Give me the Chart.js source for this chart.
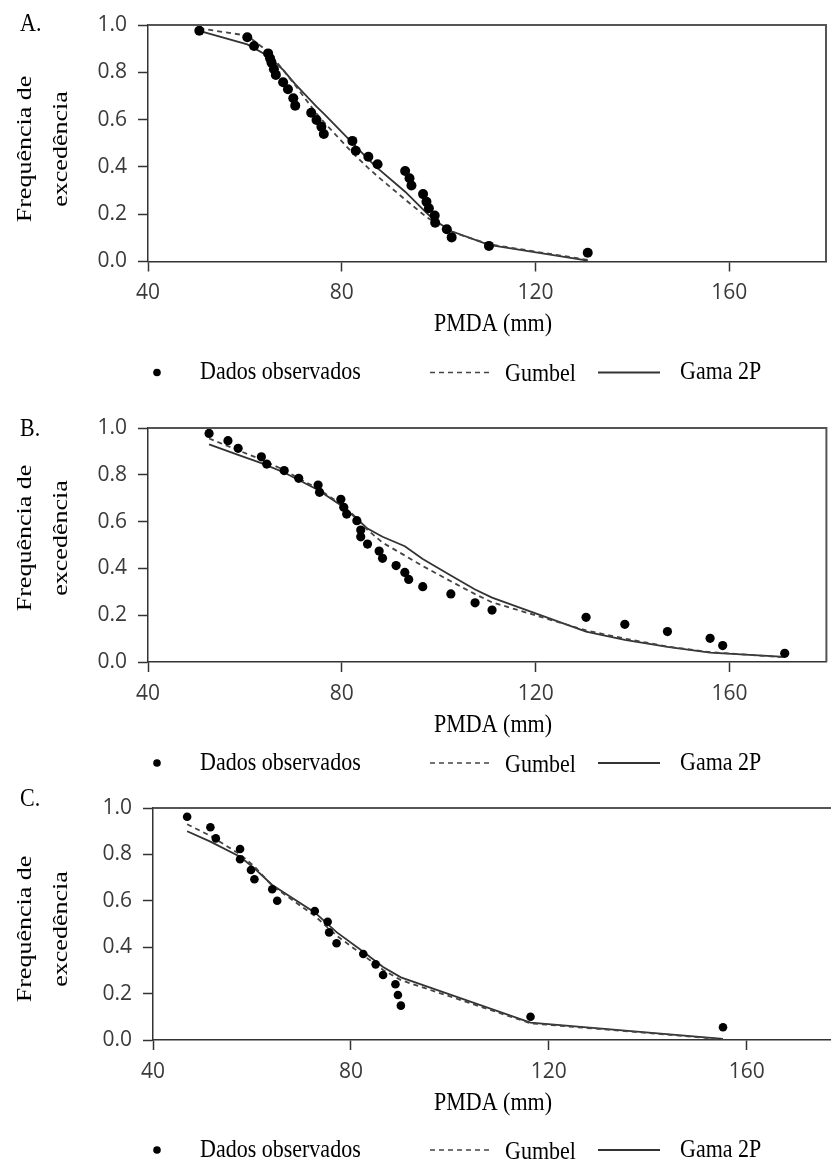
<!DOCTYPE html>
<html><head><meta charset="utf-8">
<script src="https://cdn.jsdelivr.net/npm/chart.js@4.4.1/dist/chart.umd.min.js"></script>
<style>
html,body{margin:0;padding:0;background:#fff;overflow:hidden;width:831px;height:1167px;position:relative;}
.wrap{position:absolute;left:0;}
canvas{display:block;}
</style></head><body>
<div class="wrap" style="top:0px"><canvas id="cA" width="831" height="390"></canvas></div>
<div class="wrap" style="top:390px"><canvas id="cB" width="831" height="388"></canvas></div>
<div class="wrap" style="top:778px"><canvas id="cC" width="850" height="389"></canvas></div>
<script>
// ---------- data ----------
const xTickLabels = [40, 80, 120, 160];
const yTickLabels = [0, 0.2, 0.4, 0.6, 0.8, 1.0];
const legendLabels = ['Dados observados', 'Gumbel', 'Gama 2P'];
const panelLetters = ['A.', 'B.', 'C.'];
const yTitleLines = ['Frequência de', 'excedência'];
const xTitle = 'PMDA (mm)';

// Panel A
const obsA_x = [50.6, 60.5, 61.9, 64.8, 65.2, 65.5, 66.0, 66.4, 67.9, 68.9, 70.0, 70.4, 73.7, 74.8, 75.8, 76.3, 82.2, 82.9, 85.5, 87.4, 93.1, 94.0, 94.4, 96.8, 97.5, 98.0, 99.2, 99.3, 101.7, 102.7, 110.4, 130.8];
const obsA_y = [0.976, 0.948, 0.911, 0.880, 0.859, 0.841, 0.813, 0.789, 0.758, 0.728, 0.690, 0.659, 0.629, 0.598, 0.570, 0.539, 0.510, 0.468, 0.443, 0.411, 0.383, 0.352, 0.321, 0.285, 0.253, 0.225, 0.194, 0.164, 0.136, 0.102, 0.066, 0.037];
const fitA_x = [50.6, 60.5, 64.8, 67.9, 70.4, 74.8, 76.3, 82.2, 85.5, 87.4, 93.1, 97.5, 99.3, 102.7, 110.4, 130.8];
const gumbelA = [0.986, 0.955, 0.887, 0.810, 0.745, 0.625, 0.590, 0.460, 0.395, 0.360, 0.262, 0.188, 0.165, 0.125, 0.073, 0.007];
const gamaA   = [0.975, 0.918, 0.869, 0.810, 0.750, 0.655, 0.625, 0.502, 0.432, 0.395, 0.295, 0.206, 0.172, 0.128, 0.070, 0.004];

// Panel B
const obsB_x = [52.6, 56.5, 58.6, 63.4, 64.5, 68.1, 71.1, 75.1, 75.4, 79.8, 80.4, 81.0, 83.1, 83.9, 83.9, 85.3, 87.7, 88.4, 91.2, 93.0, 93.8, 96.7, 102.5, 107.5, 111.0, 130.4, 138.4, 147.2, 156.0, 158.6, 171.4];
const obsB_y = [0.977, 0.946, 0.913, 0.877, 0.846, 0.818, 0.785, 0.756, 0.725, 0.695, 0.661, 0.632, 0.604, 0.564, 0.535, 0.504, 0.474, 0.443, 0.412, 0.383, 0.353, 0.322, 0.291, 0.253, 0.222, 0.191, 0.161, 0.130, 0.101, 0.070, 0.037];
const fitB_x = [52.6, 58.6, 63.4, 68.1, 71.1, 75.1, 79.8, 83.1, 85.3, 88.4, 93.0, 96.7, 102.5, 107.5, 111.0, 130.4, 138.4, 147.2, 156.0, 171.4];
const gumbelB = [0.955, 0.905, 0.865, 0.820, 0.785, 0.740, 0.675, 0.615, 0.565, 0.510, 0.455, 0.410, 0.345, 0.290, 0.255, 0.135, 0.100, 0.066, 0.042, 0.020];
const gamaB   = [0.930, 0.885, 0.850, 0.810, 0.778, 0.735, 0.670, 0.612, 0.570, 0.535, 0.495, 0.440, 0.370, 0.310, 0.275, 0.130, 0.095, 0.065, 0.040, 0.022];

// Panel C
const obsC_x = [46.9, 51.6, 52.7, 57.6, 57.6, 59.8, 60.5, 64.1, 65.1, 72.7, 75.3, 75.6, 77.1, 82.5, 85.0, 86.5, 89.0, 89.5, 90.1, 116.3, 155.2];
const obsC_y = [0.962, 0.917, 0.869, 0.823, 0.779, 0.733, 0.693, 0.650, 0.600, 0.556, 0.510, 0.464, 0.417, 0.371, 0.326, 0.280, 0.240, 0.194, 0.148, 0.100, 0.055];
const fitC_x = [46.9, 51.6, 57.6, 60.5, 64.1, 72.7, 77.1, 82.5, 86.5, 90.1, 116.3, 155.2];
const gumbelC = [0.930, 0.880, 0.800, 0.748, 0.665, 0.535, 0.450, 0.365, 0.302, 0.258, 0.072, 0.003];
const gamaC   = [0.900, 0.855, 0.790, 0.740, 0.668, 0.550, 0.465, 0.380, 0.315, 0.270, 0.075, 0.005];

// ---------- drawing ----------
const SERIF = '"Liberation Serif", "Times New Roman", serif';
const SANS = '"Open Sans", Lato, sans-serif';
const XSCALE_H = 50;

function txt(ctx, s, x, y, size, sy, align) {
  ctx.save();
  ctx.translate(x, y);
  ctx.scale(1, sy);
  ctx.font = size + 'px ' + SERIF;
  ctx.textAlign = align || 'left';
  ctx.textBaseline = 'middle';
  ctx.fillStyle = '#000';
  ctx.fillText(s, 0, 0);
  ctx.restore();
}
function vtxt(ctx, s, x, y, size, along) {
  ctx.save();
  ctx.translate(x, y);
  ctx.rotate(-Math.PI / 2);
  ctx.scale(along, 1);
  ctx.font = size + 'px ' + SERIF;
  ctx.textAlign = 'center';
  ctx.textBaseline = 'alphabetic';
  ctx.fillStyle = '#000';
  ctx.fillText(s, 0, 0);
  ctx.restore();
}

const decor = {
  id: 'decor',
  afterDraw(chart, args, p) {
    const ctx = chart.ctx, ca = chart.chartArea;
    ctx.save();
    ctx.strokeStyle = '#555';
    ctx.lineWidth = 2;
    ctx.beginPath();
    ctx.moveTo(ca.left, ca.top);
    ctx.lineTo(ca.right, ca.top);
    ctx.lineTo(ca.right, ca.bottom);
    ctx.stroke();
    ctx.restore();
    txt(ctx, p.letter, 20, p.letterY, 22, 1.1, 'left');
    vtxt(ctx, yTitleLines[0], 31, p.yTitleY, 20, 1.3);
    vtxt(ctx, yTitleLines[1], 67, p.yTitleY, 20, 1.3);
    txt(ctx, xTitle, 493, ca.bottom + 63, 22, 1.15, 'center');
    const ly = ca.bottom + p.legendDy;
    ctx.save();
    ctx.fillStyle = '#000';
    ctx.beginPath(); ctx.arc(157, ly, 3.8, 0, Math.PI * 2); ctx.fill();
    ctx.strokeStyle = '#444'; ctx.lineWidth = 1.6; ctx.setLineDash([5, 4]);
    ctx.beginPath(); ctx.moveTo(430, ly); ctx.lineTo(490, ly); ctx.stroke();
    ctx.setLineDash([]); ctx.strokeStyle = '#333'; ctx.lineWidth = 2;
    ctx.beginPath(); ctx.moveTo(598, ly); ctx.lineTo(660, ly); ctx.stroke();
    ctx.restore();
    txt(ctx, legendLabels[0], 200, ly, 22, 1.15, 'left');
    txt(ctx, legendLabels[1], 505, ly + 2, 22, 1.15, 'left');
    txt(ctx, legendLabels[2], 680, ly, 22, 1.15, 'left');
  }
};

function makeChart(id, p) {
  const canvas = document.getElementById(id);
  const W = canvas.width, H = canvas.height;
  const obs = p.obsX.map((x, i) => ({ x: x, y: p.obsY[i] }));
  const gum = p.fitX.map((x, i) => ({ x: x, y: p.gumbel[i] }));
  const gam = p.fitX.map((x, i) => ({ x: x, y: p.gama[i] }));
  const tickFont = { family: SANS, size: 21 };
  const grid = { drawOnChartArea: false, drawTicks: true, tickLength: 10, tickColor: '#333', tickWidth: 1.5 };
  const border = { color: '#333', width: 1.5 };
  new Chart(canvas, {
    type: 'scatter',
    data: {
      datasets: [
        { label: legendLabels[0], data: obs, pointRadius: p.r, pointBackgroundColor: '#000', pointBorderWidth: 0, showLine: false },
        { label: legendLabels[1], data: gum, showLine: true, borderColor: '#444', borderWidth: 1.8, borderDash: [5, 4], pointRadius: 0, tension: 0, fill: false },
        { label: legendLabels[2], data: gam, showLine: true, borderColor: '#333', borderWidth: 1.8, pointRadius: 0, tension: 0, fill: false }
      ]
    },
    options: {
      responsive: false, animation: false, devicePixelRatio: 1,
      events: [],
      layout: { padding: { top: p.top, left: 0, right: W - p.right, bottom: H - p.bottom - XSCALE_H } },
      plugins: { legend: { display: false }, tooltip: { enabled: false }, decor: p },
      scales: {
        x: {
          type: 'linear', min: 40, max: 180,
          afterBuildTicks: s => { s.ticks = xTickLabels.map(v => ({ value: v })); },
          afterFit: s => { s.height = XSCALE_H; },
          ticks: { font: tickFont, color: '#3a3a3a', padding: 9, maxRotation: 0, autoSkip: false },
          grid: grid, border: border
        },
        y: {
          type: 'linear', min: 0, max: 1,
          afterBuildTicks: s => { s.ticks = yTickLabels.map(v => ({ value: v })); },
          afterFit: s => { s.width = p.left; },
          ticks: { font: tickFont, color: '#3a3a3a', padding: 11, callback: v => Number(v).toFixed(1) },
          grid: grid, border: border
        }
      }
    },
    plugins: [decor]
  });
}

makeChart('cA', { obsX: obsA_x, obsY: obsA_y, fitX: fitA_x, gumbel: gumbelA, gama: gamaA, r: 5,
  top: 25, bottom: 261.5, left: 148, right: 827, letter: panelLetters[0], letterY: 25, yTitleY: 149, legendDy: 111 });
makeChart('cB', { obsX: obsB_x, obsY: obsB_y, fitX: fitB_x, gumbel: gumbelB, gama: gamaB, r: 4.6,
  top: 38, bottom: 272, left: 148, right: 831, letter: panelLetters[1], letterY: 40, yTitleY: 148, legendDy: 101 });
makeChart('cC', { obsX: obsC_x, obsY: obsC_y, fitX: fitC_x, gumbel: gumbelC, gama: gamaC, r: 4.3,
  top: 30, bottom: 262, left: 153, right: 847, letter: panelLetters[2], letterY: 22, yTitleY: 151, legendDy: 110 });
</script>
</body></html>
